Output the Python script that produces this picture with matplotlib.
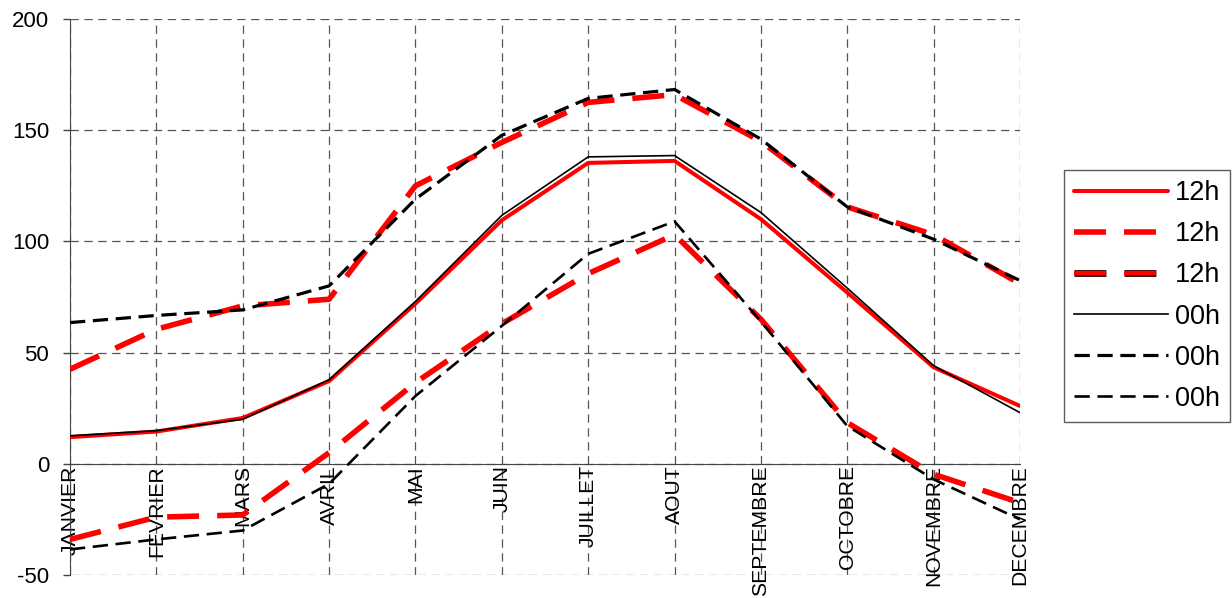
import numpy as np
import matplotlib.pyplot as plt
import matplotlib.patheffects as pe

plt.rcParams['font.family'] = ['Liberation Sans', 'DejaVu Sans']
plt.rcParams['lines.scale_dashes'] = False
plt.rcParams['axes.unicode_minus'] = False

mois = ["JANVIER", "FEVRIER", "MARS", "AVRIL", "MAI", "JUIN", "JUILLET",
        "AOUT", "SEPTEMBRE", "OCTOBRE", "NOVEMBRE", "DECEMBRE"]

# 12h
moy_12h = [12, 14.5, 20.6, 37.2, 72, 109.5, 135.3, 136.2, 110, 77, 43.4, 26]
max_12h = [42.5, 60.5, 71, 74, 125, 144.5, 162.5, 166, 145, 115.5, 103, 81]
min_12h = [-34, -24, -23, 5, 36.5, 63, 85.5, 103, 65, 18.5, -4.7, -17.5]
# 00h
moy_00h = [12.6, 14.9, 20, 37.8, 73, 111.7, 138, 138.6, 113, 79, 44.1, 23]
max_00h = [63.5, 66.7, 69.2, 80, 119, 147.7, 164.3, 168.3, 146, 115.5, 101, 82.4]
min_00h = [-38.5, -34, -30, -9, 30.5, 62, 94.4, 109, 64, 17, -7, -25]

x = np.arange(len(mois))

fig = plt.figure(figsize=(12.32, 5.98), dpi=100)
ax = fig.add_axes([70/1232, 1-575/598, (1020-70)/1232, (575-19)/598])

ax.plot(x, moy_12h, color='#ff0000', lw=2.9, label='12h', solid_capstyle='round', zorder=3)
ax.plot(x, max_12h, color='#ff0000', lw=4, dashes=(23, 13), label='12h', zorder=3)
ax.plot(x, min_12h, color='#ff0000', lw=4, dashes=(23, 13), label='12h', zorder=3)
ax.plot(x, moy_00h, color='black', lw=1.2, label='00h', zorder=4)
ax.plot(x, max_00h, color='black', lw=2.3, dashes=(11, 5.5), label='00h', zorder=4)
ax.plot(x, min_00h, color='black', lw=1.9, dashes=(11, 5.5), label='00h', zorder=4)

ax.set_xlim(0, 11)
ax.set_ylim(-50, 200)
ax.set_yticks([-50, 0, 50, 100, 150, 200])
ax.set_xticks(x)
ax.set_xticklabels(mois)

ax.grid(True, color='#555555', lw=0.9, dashes=(6, 4))
ax.spines['right'].set_visible(False)
ax.spines['top'].set_visible(False)
ax.spines['bottom'].set_position(('data', 0))
ax.spines['bottom'].set_color('#444444')
ax.spines['left'].set_color('#444444')
ax.spines['bottom'].set_zorder(2)
ax.tick_params(axis='y', labelsize=16, length=5, width=1, color='#444444', pad=10)
ax.tick_params(axis='x', labelsize=15.2, length=0, pad=1, labelrotation=90)
for t in ax.get_xticklabels():
    t.set_va('top')
    t.set_ha('center')

leg = ax.legend(loc='center left', bbox_to_anchor=(1064/1232, 1-296/598),
                bbox_transform=fig.transFigure, fontsize=19.5, frameon=True,
                fancybox=False, handlelength=3.45, handletextpad=0.26,
                labelspacing=0.56, borderpad=0.38, borderaxespad=0)
leg.get_frame().set_edgecolor('#333333')
leg.get_frame().set_linewidth(1)
leg.get_lines()[2].set_path_effects([pe.Stroke(linewidth=5, foreground='#441111'),
                                     pe.Normal()])
leg.get_lines()[2].set_linewidth(3)

fig.savefig('out.png', dpi=100)
